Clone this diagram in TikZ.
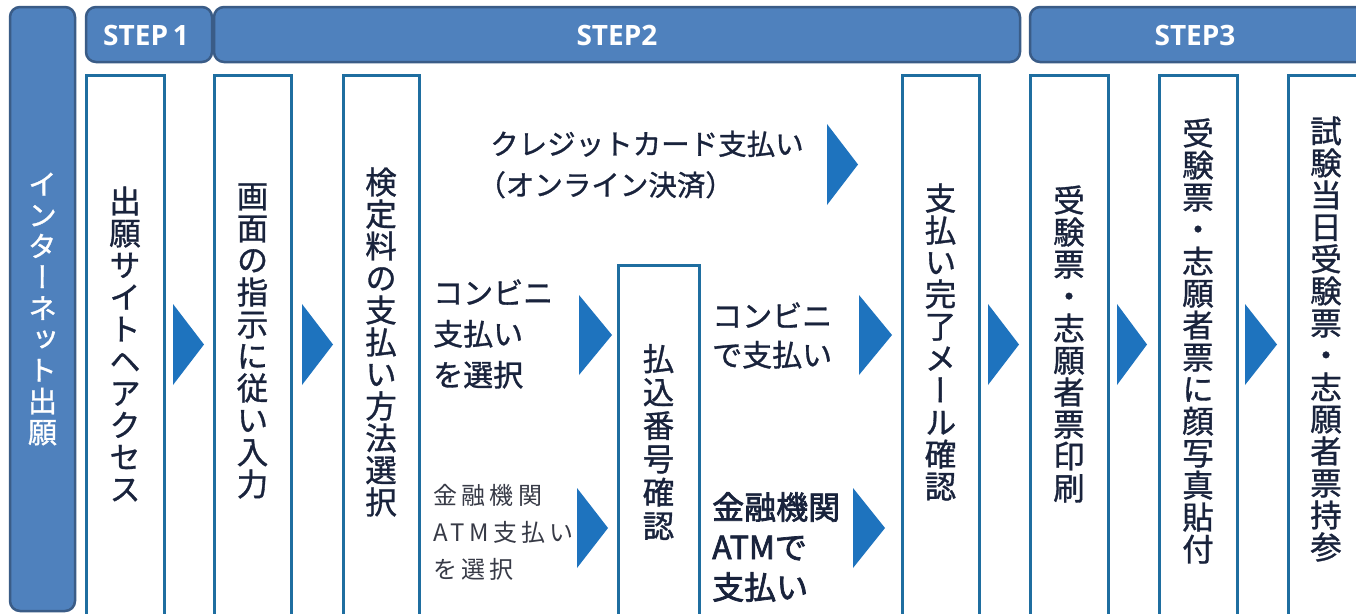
\documentclass[tikz,border=0pt]{standalone}
\usepackage{fontspec}
\newfontfamily\jp[FakeBold=1]{Noto Sans CJK JP}
\newfontfamily\jpb[FakeBold=2.2]{Noto Sans CJK JP}
\newfontfamily\jpv[RawFeature=+vert,FakeBold=1]{Noto Sans CJK JP}
\newfontfamily\jpls[LetterSpace=18]{Noto Sans CJK JP}
\newfontfamily\stepfont{Open Sans}
\newcommand\nolsk{\lineskiplimit=-40pt\relax}
\definecolor{hdrfill}{RGB}{79,129,189}
\definecolor{hdrline}{RGB}{58,92,135}
\definecolor{colline}{RGB}{31,110,160}
\definecolor{arrblue}{RGB}{30,115,190}
\definecolor{txt}{RGB}{25,35,60}
\definecolor{txtlight}{RGB}{55,58,70}
\begin{document}
\begin{tikzpicture}[x=1pt,y=-1pt,
  hdr/.style={draw=hdrline, fill=hdrfill, line width=2.5pt, rounded corners=10pt},
  col/.style={draw=colline, fill=white, line width=3pt},
  vt/.style={align=center, inner sep=0pt, text=txt, font=\jpv\fontsize{31.5}{32}\selectfont\nolsk},
  ht/.style={align=left, inner sep=0pt, text=txt, anchor=west},
  steptxt/.style={inner sep=0pt, text=white, font=\stepfont\bfseries\fontsize{28}{30}\selectfont},
  arr/.style={fill=arrblue}]
\useasboundingbox (0,0) rectangle (1356,613);
\clip (0,0) rectangle (1356,613);
\fill[white] (0,0) rectangle (1356,613);
% left bar and headers
\draw[hdr] (10,7) rectangle (75,611);
\draw[hdr] (86,7) rectangle (212,62);
\draw[hdr] (214,7) rectangle (1020,62);
\draw[hdr] (1030,7) rectangle (1372,62);
\node[steptxt] (s1) at (146,35) {STEP\,1};
\node[steptxt] (s2) at (617,35) {STEP2};
\node[steptxt] (s3) at (1195,35) {STEP3};
% columns
\draw[col] (86,75) rectangle (164,625);
\draw[col] (214,75) rectangle (291,625);
\draw[col] (343,75) rectangle (419,625);
\draw[col] (618,265) rectangle (699,625);
\draw[col] (902,75) rectangle (979,625);
\draw[col] (1030,75) rectangle (1108,625);
\draw[col] (1159,75) rectangle (1237,625);
\draw[col] (1288,75) rectangle (1366,625);
% vertical texts
\node[vt, text=white, font=\jpv\fontsize{29}{31}\selectfont\nolsk] (t0) at (42.5,309) {イ\\ン\\タ\\ー\\ネ\\ッ\\ト\\出\\願};
\node[vt] (t1) at (125,344) {出\\願\\サ\\イ\\ト\\ヘ\\ア\\ク\\セ\\ス};
\node[vt] (t2) at (252.5,341) {画\\面\\の\\指\\示\\に\\従\\い\\入\\力};
\node[vt] (t3) at (381,342) {検\\定\\料\\の\\支\\払\\い\\方\\法\\選\\択};
\node[vt, font=\jpv\fontsize{31.5}{33.4}\selectfont\nolsk] (t4) at (658.5,442) {払\\込\\番\\号\\確\\認};
\node[vt] (t5) at (940.5,342) {支\\払\\い\\完\\了\\メ\\ー\\ル\\確\\認};
\node[vt] (t6) at (1069,344) {受\\験\\票\\・\\志\\願\\者\\票\\印\\刷};
\node[vt] (t7) at (1198,341) {受\\験\\票\\・\\志\\願\\者\\票\\に\\顔\\写\\真\\貼\\付};
\node[vt] (t8) at (1326,339) {試\\験\\当\\日\\受\\験\\票\\・\\志\\願\\者\\票\\持\\参};
% horizontal texts
\node[ht, font=\jp\fontsize{28.5}{41}\selectfont] (cc) at (490,164.5) {クレジットカード支払い\\\hspace*{-0.45em}（オンライン決済）};
\node[ht, font=\jp\fontsize{30}{41}\selectfont] (cv1) at (433,334) {コンビニ\\支払い\\を選択};
\node[ht, text=txtlight, font=\jpls\fontsize{24}{37}\selectfont] (atm1) at (433,532) {金融機関\\ATM支払い\\を選択};
\node[ht, font=\jp\fontsize{30}{39}\selectfont] (cv2) at (712,335.5) {コンビニ\\で支払い};
\node[ht, font=\jpb\fontsize{32}{40}\selectfont] (atm2) at (712,547) {金融機関\\ATMで\\支払い};
% arrows
\fill[arr] (173,304) -- ++(31,40.5) -- ++(-31,40.5) -- cycle;
\fill[arr] (302,304) -- ++(31,40.5) -- ++(-31,40.5) -- cycle;
\fill[arr] (827,124) -- ++(31,40.5) -- ++(-31,40.5) -- cycle;
\fill[arr] (579,295) -- ++(33,40) -- ++(-33,40) -- cycle;
\fill[arr] (577,488) -- ++(31,40) -- ++(-31,40) -- cycle;
\fill[arr] (859,295) -- ++(33,40) -- ++(-33,40) -- cycle;
\fill[arr] (853,488) -- ++(32,40) -- ++(-32,40) -- cycle;
\fill[arr] (988,304) -- ++(31,40.5) -- ++(-31,40.5) -- cycle;
\fill[arr] (1117,304) -- ++(30,40.5) -- ++(-30,40.5) -- cycle;
\fill[arr] (1245,304) -- ++(32,40.5) -- ++(-32,40.5) -- cycle;
\end{tikzpicture}
\end{document}
